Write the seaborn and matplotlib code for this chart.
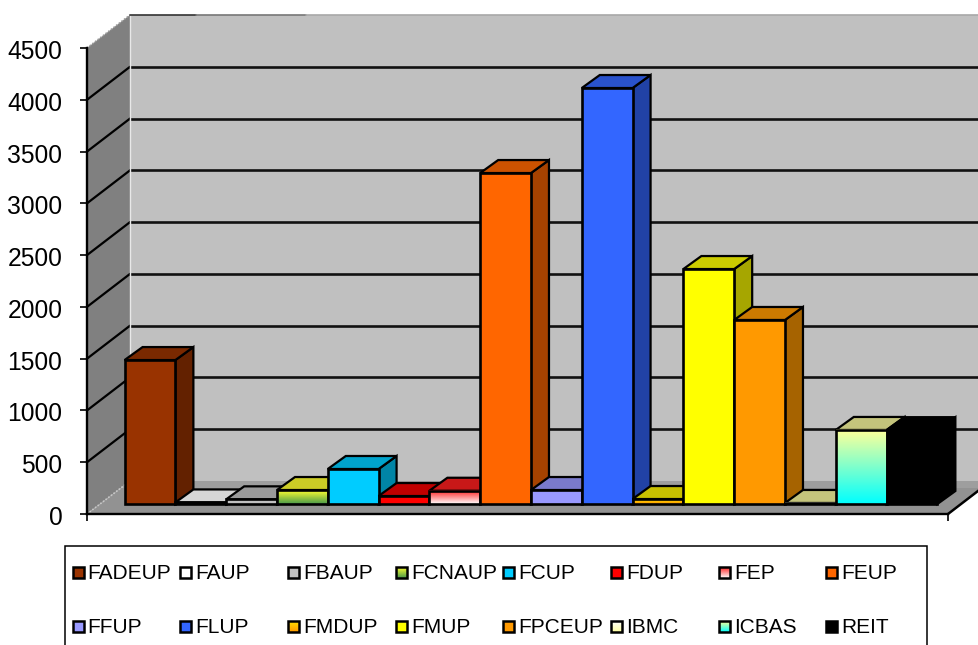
import numpy as np
import pandas as pd
import seaborn as sns
import matplotlib.pyplot as plt
from matplotlib.colors import LinearSegmentedColormap, to_rgb
from matplotlib.patches import Polygon, Rectangle
from matplotlib.transforms import Affine2D, IdentityTransform

# values
names = ['FADEUP', 'FAUP', 'FBAUP', 'FCNAUP', 'FCUP', 'FDUP', 'FEP', 'FEUP',
         'FFUP', 'FLUP', 'FMDUP', 'FMUP', 'FPCEUP', 'IBMC', 'ICBAS', 'REIT']
values = [1390, 15, 45, 135, 338, 77, 128, 3196,
          135, 4017, 48, 2269, 1777, 10, 715, 713]
y_ticks = [0, 500, 1000, 1500, 2000, 2500, 3000, 3500, 4000, 4500]

# colours: flat fill, top of the fade, bottom of the fade (None = flat)
fills = ['#993300', '#ffffff', '#c0c0c0', '#ffff00', '#00ccff', '#ff0000', '#ff0000', '#ff6600',
         '#9999ff', '#3366ff', '#ffcc00', '#ffff00', '#ff9900', '#ffffcc', '#ffff99', '#000000']
fades = {'FCNAUP': ('#ffff30', '#4a9a4a'), 'FEP': ('#ff2020', '#ffffff'),
         'FMDUP': ('#ffe000', '#ff9900'), 'IBMC': ('#ffffff', '#ffffa0'),
         'ICBAS': ('#ffff99', '#00ffff')}
top_faces = {'FAUP': '#d6d6d6', 'FMDUP': '#c8c000', 'IBMC': '#c4c47c', 'ICBAS': '#c4c47c',
             'FEP': '#c81818', 'FDUP': '#c00000', 'REIT': '#000000'}

W, H = 979, 645
BAR_PLANE = (13, 10)   # bars stand a bit behind the front edge of the floor
BAR_DEPTH = (18, 13)
WALL = (43, 33)

sns.set_style('white')
plt.rcParams['font.family'] = ['Liberation Sans', 'DejaVu Sans']

fig = plt.figure(figsize=(W / 100, H / 100), dpi=100, facecolor='white')
ax = fig.add_axes([87 / W, (H - 514) / H, (948 - 87) / W, 466 / H])
df = pd.DataFrame({'name': names, 'value': values})
sns.barplot(data=df, x='name', y='value', hue='name', palette=fills, dodge=False, width=1,
            saturation=1, legend=False, edgecolor='black', linewidth=1.9, ax=ax)
bars = list(ax.patches)

XLIM = (-0.984, 15.965)
ax.set_xlim(XLIM)
ax.set_ylim(0, 4500)
ax.set_yticks(y_ticks)
ax.set_xticks(XLIM)
ax.set_xticklabels([])
ax.set_xlabel('')
ax.set_ylabel('')
ax.patch.set_visible(False)
ax.tick_params(axis='y', left=True, length=5, width=1.2, color='black', pad=12, labelsize=17.7,
               labelcolor='black')
ax.tick_params(axis='x', bottom=True, length=5, width=1.2, color='black')
for s in ['top', 'right']:
    ax.spines[s].set_visible(False)
for s in ['left', 'bottom']:
    ax.spines[s].set_linewidth(1.7)
    ax.spines[s].set_color('black')
    ax.spines[s].set_zorder(3)
ax.set_autoscale_on(False)

screen = IdentityTransform()


def shift(xy, off):
    return np.asarray(xy) + np.asarray(off)


def corner(x, y):
    return ax.transData.transform((x, y))


def face(pts, color, z, edge='none', lw=0):
    ax.add_patch(Polygon(pts, closed=True, facecolor=color, edgecolor=edge, linewidth=lw,
                         transform=screen, clip_on=False, zorder=z))


def shade(color, k):
    return tuple(c * k for c in to_rgb(color))


def fade_image(c_top, c_bottom, extent, transform, z):
    cmap = LinearSegmentedColormap.from_list('fade', [c_top, c_bottom])
    ax.imshow(np.linspace(0, 1, 64)[:, None], cmap=cmap, extent=extent, aspect='auto',
              transform=transform, zorder=z, clip_on=False)


# walls and floor
fl, fr = corner(XLIM[0], 0), corner(XLIM[1], 0)
tl, tr = corner(XLIM[0], 4500), corner(XLIM[1], 4500)
face([shift(fl, WALL), shift(fr, WALL), shift(tr, WALL), shift(tl, WALL)], '#c0c0c0', 0.1)
face([fl, shift(fl, WALL), shift(tl, WALL), tl], '#808080', 0.2)
face([fl, fr, shift(fr, WALL), shift(fl, WALL)], '#929292', 0.3)
face([shift(fl, WALL), shift(fr, WALL), shift(shift(fr, WALL), (-9, -7)), shift(shift(fl, WALL), (-9, -7))],
     '#9e9e9e', 0.35)

for t in y_ticks[1:-1]:
    a, b = corner(XLIM[0], t), corner(XLIM[1], t)
    ax.plot(*zip(a, shift(a, WALL)), color='black', lw=1.6, transform=screen, clip_on=False, zorder=1)
    ax.plot(*zip(shift(a, WALL), shift(b, WALL)), color='#111111', lw=1.9, transform=screen,
            clip_on=False, zorder=1)

# thin edges of the room
ax.plot(*zip(shift(fl, WALL), shift(tl, WALL)), color='#e8e8e8', lw=1, transform=screen, clip_on=False, zorder=1)
ax.plot(*zip(tl, shift(tl, WALL)), color='#999999', lw=1.2, ls=(0, (1, 1)), transform=screen, clip_on=False, zorder=1)
ax.plot(*zip(fl, shift(fl, WALL)), color='#c8c8c8', lw=1.2, ls=(0, (1, 1)), transform=screen, clip_on=False, zorder=1)
top_a, top_b = shift(tl, WALL), shift(tr, WALL)
ax.plot(*zip(top_a, top_a + (66, 0)), color='#333333', lw=1.2, transform=screen, clip_on=False, zorder=1.1)
ax.plot(*zip(top_a + (66, 0), top_a + (176, 0)), color='#777777', lw=1.2, transform=screen, clip_on=False, zorder=1.1)
ax.plot(*zip(top_a + (176, 0), top_b), color='#a8a8a8', lw=1.2, transform=screen, clip_on=False, zorder=1.1)
ax.plot(*zip(fr, shift(fr, WALL)), color='black', lw=1.8, transform=screen, clip_on=False, zorder=1)

# bars, left to right so each one hides the side of the one before
plane = ax.transData + Affine2D().translate(*BAR_PLANE)
for i, (bar, name, col) in enumerate(zip(bars, names, fills)):
    z = 10 + i
    bar.set_transform(plane)
    bar.set_clip_on(False)
    bar.set_zorder(z + 0.3)
    x0, x1 = bar.get_x(), bar.get_x() + bar.get_width()
    v = bar.get_height()
    bl = plane.transform((x0, 0))
    br = plane.transform((x1, 0))
    ul = plane.transform((x0, v))
    ur = plane.transform((x1, v))
    base = fades[name][0] if name in fades else col
    side = '#000000' if name == 'REIT' else shade(base, 0.65)
    top = top_faces.get(name, shade(base, 0.8))
    face([br, shift(br, BAR_DEPTH), shift(ur, BAR_DEPTH), ur], side, z, 'black', 1.6)
    face([ul, ur, shift(ur, BAR_DEPTH), shift(ul, BAR_DEPTH)], top, z + 0.1, 'black', 1.6)
    if name in fades:
        bar.set_facecolor('none')
        fade_image(*fades[name], [x0, x1, 0, v], plane, z + 0.2)

ax.set_xlim(XLIM)
ax.set_ylim(0, 4500)

# legend box runs off the bottom of the picture
ax.add_patch(Rectangle((65, -20), 927 - 65, H - 545.5 + 20, facecolor='white', edgecolor='black',
                       linewidth=1.1, transform=screen, clip_on=False, zorder=40))
for i, (name, col) in enumerate(zip(names, fills)):
    row, c = divmod(i, 8)
    sx = 72.5 + c * 107.7
    sy = H - (572.7 + row * 54)
    if name in fades:
        fade_image(*fades[name], [sx, sx + 11, sy - 5.5, sy + 5.5], screen, 41)
        col = 'none'
    ax.add_patch(Rectangle((sx, sy - 5.5), 11, 11, facecolor=col, edgecolor='black', linewidth=1.8,
                           transform=screen, clip_on=False, zorder=42))
    ax.text(sx + 15.2, sy - 0.5, name, fontsize=15, va='center', ha='left', color='black',
            transform=screen, zorder=43)

ax.set_xlim(XLIM)
ax.set_ylim(0, 4500)
fig.canvas.draw()
for lab in ax.get_yticklabels():
    lab.set_transform(lab.get_transform() + Affine2D().translate(-1, -1.5))
fig.savefig('out.png', dpi=100)
